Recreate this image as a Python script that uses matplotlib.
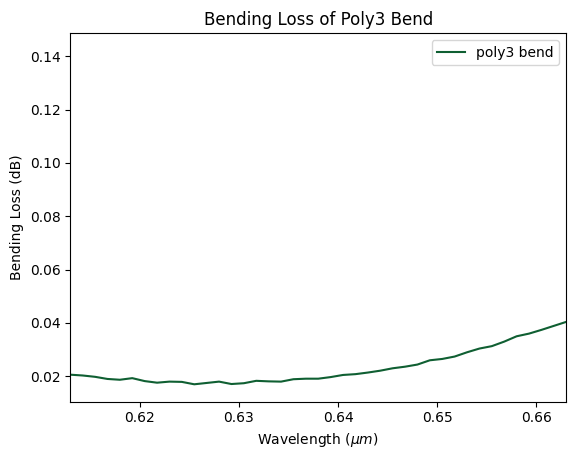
import numpy as np
import matplotlib
matplotlib.use("Agg")
import matplotlib.pyplot as plt

# wavelength samples (um) and bending loss (dB)
wavelength = np.linspace(0.613, 0.663, 41)
loss_db = [0.0206, 0.0203, 0.0198, 0.0190, 0.0187, 0.0193, 0.0182, 0.0176,
           0.0180, 0.0179, 0.0170, 0.0175, 0.0180, 0.0171, 0.0174, 0.0183,
           0.0181, 0.0180, 0.0189, 0.0191, 0.0191, 0.0197, 0.0205, 0.0208,
           0.0214, 0.0221, 0.0230, 0.0236, 0.0244, 0.0260, 0.0265, 0.0274,
           0.0290, 0.0304, 0.0313, 0.0330, 0.0350, 0.0360, 0.0374, 0.0389,
           0.0404]
label = "poly3 bend"

fig, ax = plt.subplots(figsize=(5.76, 4.59), dpi=100)
ax.plot(wavelength, loss_db, color="#0f5f32", label=label)
ax.set_xlim(wavelength[0], wavelength[-1])
ax.set_ylim(0.0105, 0.1487)
ax.set_xlabel(r"Wavelength ($\mu m$)")
ax.set_ylabel("Bending Loss (dB)")
ax.set_title("Bending Loss of Poly3 Bend")
ax.legend(loc="upper right")
fig.subplots_adjust(left=0.122, right=0.983, bottom=0.125, top=0.928)
fig.savefig("out.png")
